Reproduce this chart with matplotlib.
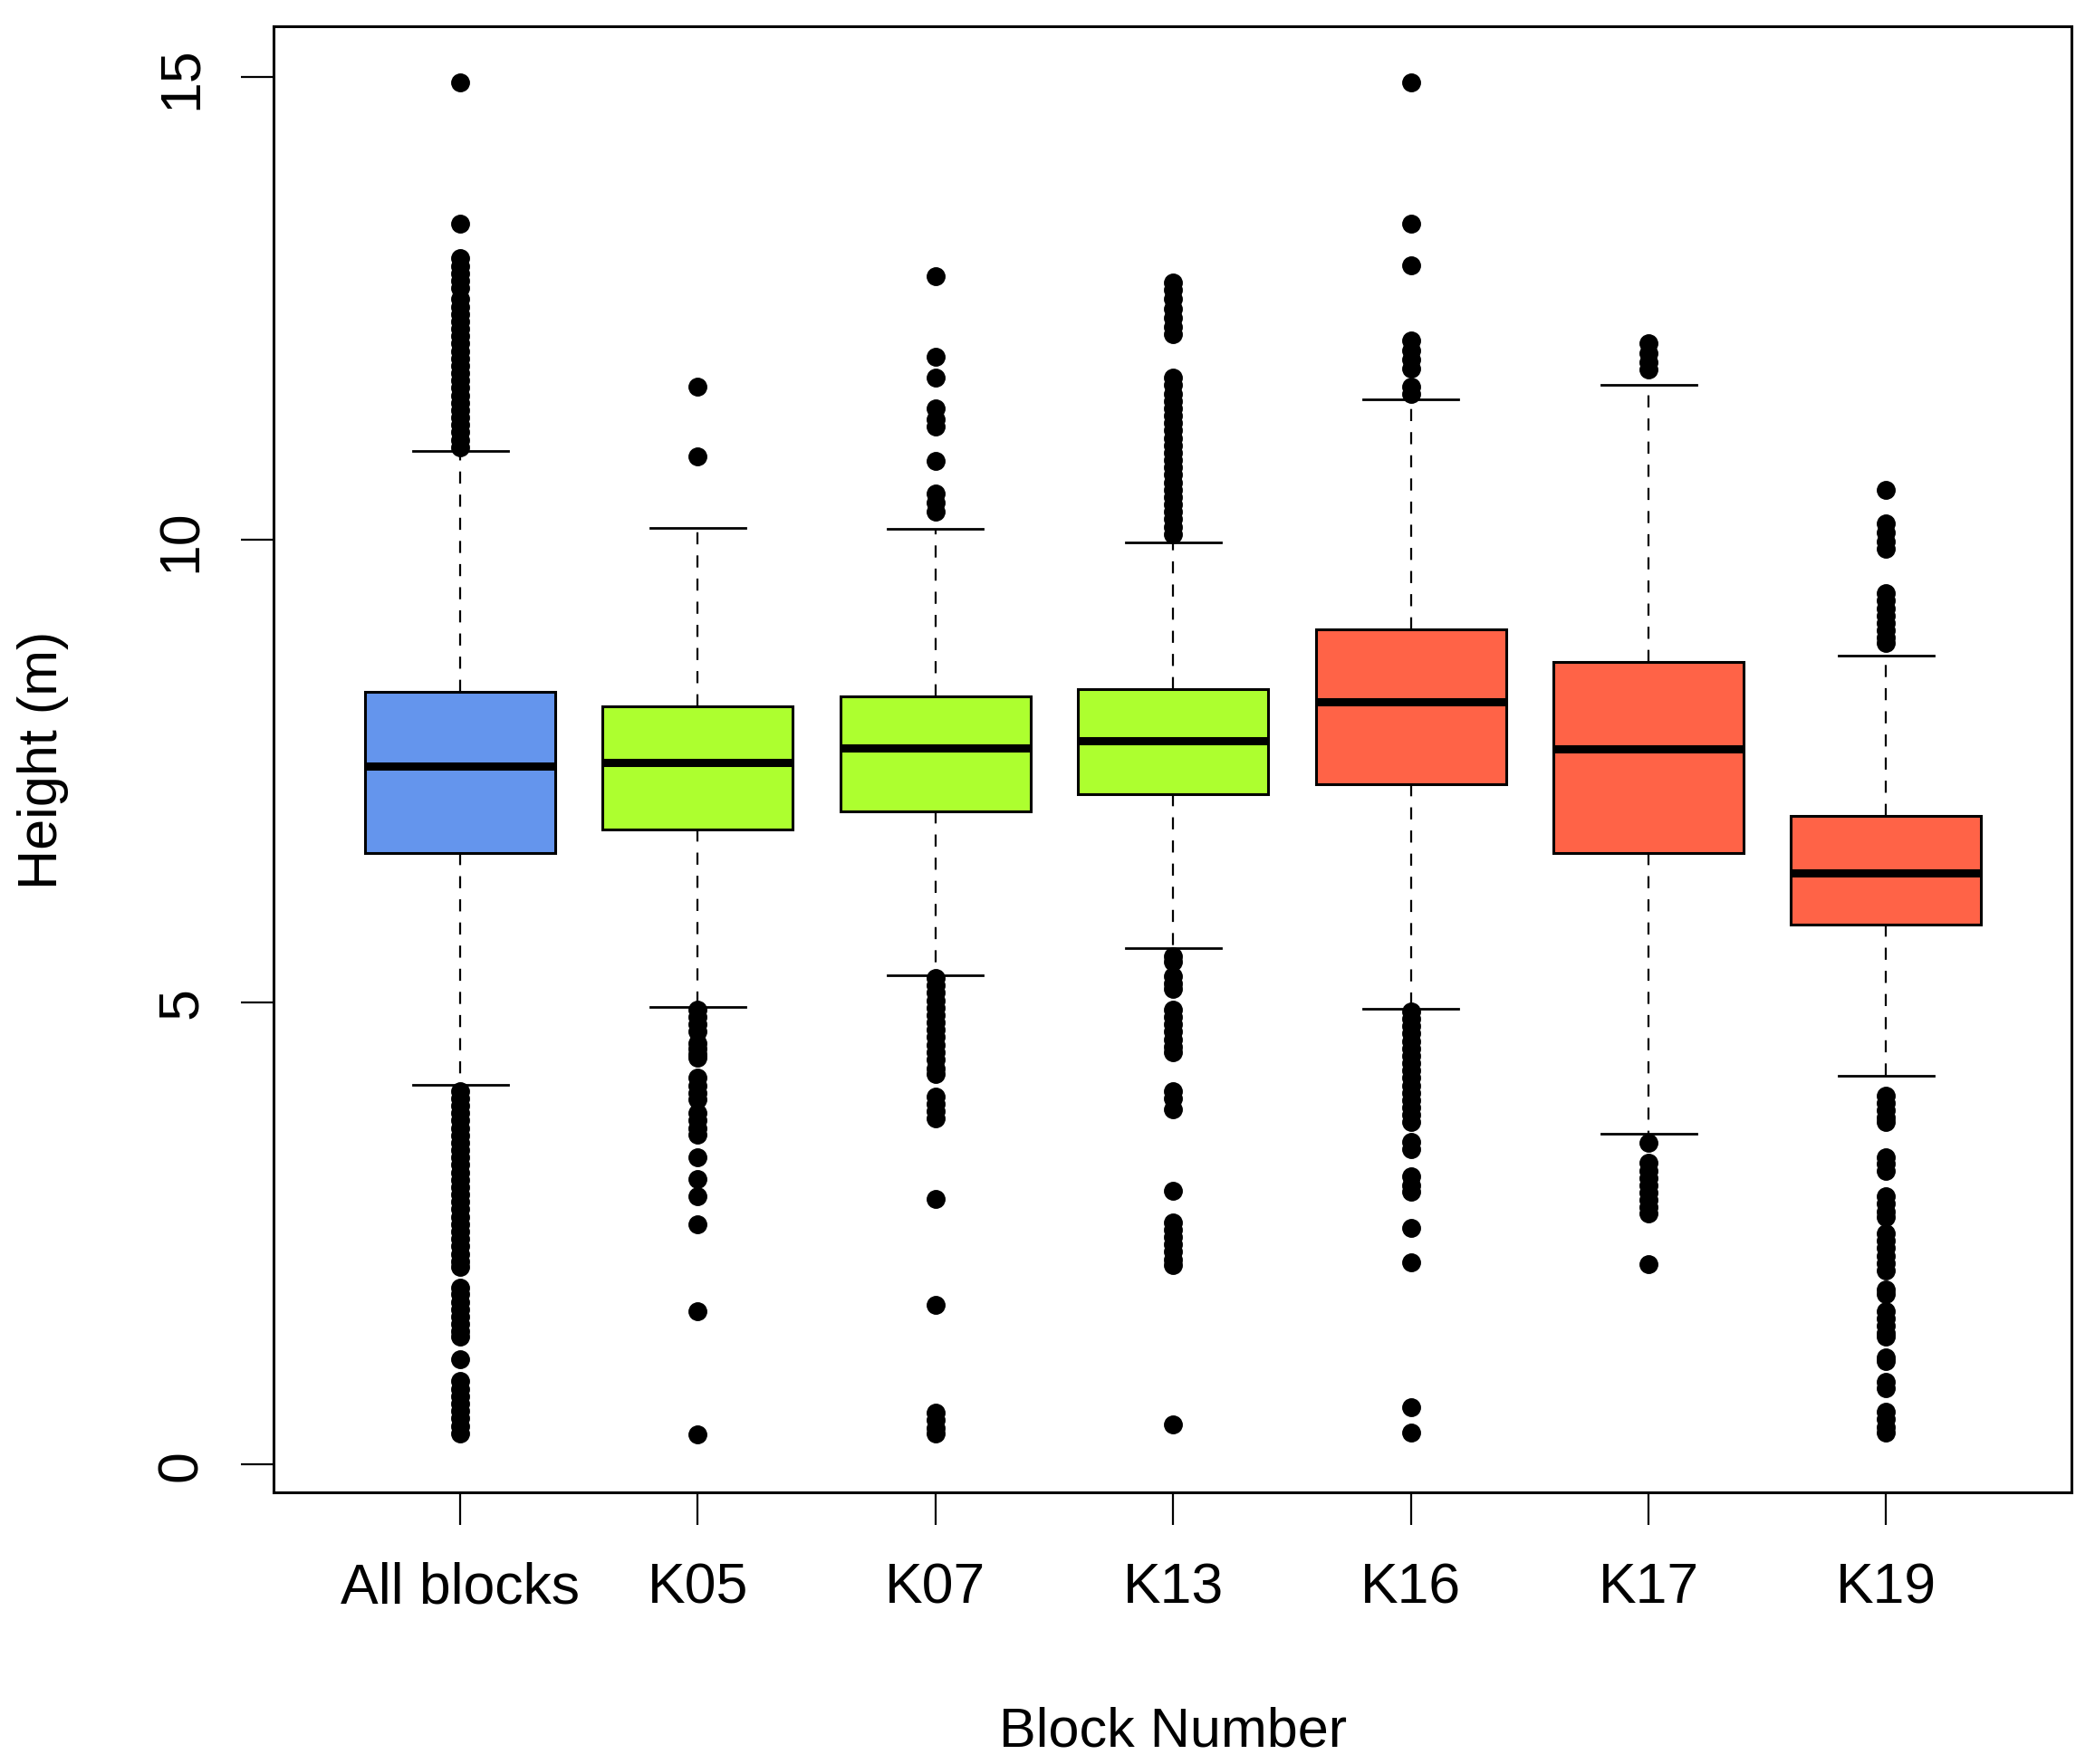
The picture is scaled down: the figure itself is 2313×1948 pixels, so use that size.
import matplotlib
matplotlib.use("Agg")
from matplotlib import pyplot as plt

plt.rcParams['font.family'] = ['Liberation Sans', 'DejaVu Sans']

# categorias y estadisticos
bloques = ["All blocks", "K05", "K07", "K13", "K16", "K17", "K19"]
colores = ["#6495ED", "#ADFF2F", "#ADFF2F", "#ADFF2F", "#FF6347", "#FF6347", "#FF6347"]

q1 = [6.61, 6.87, 7.06, 7.25, 7.36, 6.61, 5.84]
mediana = [7.55, 7.59, 7.75, 7.83, 8.25, 7.74, 6.40]
q3 = [8.35, 8.20, 8.31, 8.38, 9.03, 8.68, 7.01]
bigote_inf = [4.11, 4.95, 5.29, 5.58, 4.93, 3.58, 4.20]
bigote_sup = [10.96, 10.13, 10.12, 9.97, 11.52, 11.67, 8.75]

# atipicos
at_all = [14.94, 13.42, 13.04, 12.96, 12.88, 12.80, 12.72, 12.60, 12.52, 12.44,
          12.36, 12.28, 12.20, 12.12, 12.04, 11.96, 11.88, 11.80, 11.72, 11.64,
          11.56, 11.48, 11.40, 11.32, 11.24, 11.16, 11.08, 11.00,
          4.04, 3.96, 3.88, 3.80, 3.72, 3.64, 3.56, 3.48, 3.40, 3.32, 3.24,
          3.16, 3.08, 3.00, 2.92, 2.84, 2.76, 2.68, 2.60, 2.52, 2.44, 2.36,
          2.28, 2.20, 2.14, 1.91, 1.84, 1.76, 1.68, 1.60, 1.52, 1.44, 1.38,
          1.14, 0.90, 0.82, 0.74, 0.66, 0.58, 0.50, 0.42, 0.34]
at_k05 = [11.65, 10.90,
          4.92, 4.84, 4.76, 4.68, 4.56, 4.50, 4.44, 4.40, 4.18, 4.10, 4.02,
          3.95, 3.80, 3.72, 3.64, 3.57, 3.32, 3.09, 2.90, 2.60, 1.66, 0.33]
at_k07 = [12.85, 11.98, 11.75, 11.42, 11.30, 11.22, 10.85, 10.50, 10.40, 10.30,
          5.26, 5.18, 5.10, 5.02, 4.94, 4.86, 4.78, 4.70, 4.62, 4.54, 4.46,
          4.38, 4.28, 4.22, 3.98, 3.90, 3.82, 3.74, 2.87, 1.73, 0.56, 0.48,
          0.40, 0.34]
at_k13 = [12.78, 12.70, 12.60, 12.50, 12.40, 12.30, 12.22,
          11.75, 11.67, 11.58, 11.50, 11.42, 11.34, 11.26, 11.18, 11.10, 11.02,
          10.94, 10.86, 10.78, 10.70, 10.62, 10.54, 10.46, 10.38, 10.30, 10.22,
          10.14, 10.06,
          5.50, 5.44, 5.28, 5.20, 5.14, 4.92, 4.84, 4.76, 4.68, 4.60, 4.52,
          4.46, 4.04, 3.96, 3.84, 2.96, 2.62, 2.54, 2.46, 2.38, 2.30, 2.22,
          2.16, 0.43]
at_k16 = [14.94, 13.42, 12.97, 12.15, 12.05, 11.95, 11.85, 11.65, 11.58,
          4.90, 4.82, 4.74, 4.66, 4.58, 4.50, 4.42, 4.34, 4.26, 4.18, 4.10,
          4.02, 3.94, 3.86, 3.78, 3.70, 3.49, 3.41, 3.12, 3.02, 2.95, 2.56,
          2.19, 0.62, 0.35]
at_k17 = [12.12, 12.02, 11.92, 11.84,
          3.48, 3.26, 3.18, 3.10, 3.02, 2.94, 2.86, 2.78, 2.72, 2.17]
at_k19 = [10.54, 10.18, 10.08, 9.98, 9.90, 9.42, 9.34, 9.26, 9.18, 9.10,
          9.02, 8.94, 8.88,
          3.99, 3.91, 3.83, 3.75, 3.70, 3.32, 3.25, 3.18, 2.90, 2.82, 2.74,
          2.68, 2.50, 2.42, 2.34, 2.26, 2.18, 2.10, 1.89, 1.84, 1.66, 1.58,
          1.50, 1.42, 1.38, 1.16, 1.12, 0.89, 0.83, 0.57, 0.49, 0.41, 0.35]
atipicos = [at_all, at_k05, at_k07, at_k13, at_k16, at_k17, at_k19]

stats = []
for i in range(len(bloques)):
    stats.append({
        'label': bloques[i],
        'q1': q1[i], 'med': mediana[i], 'q3': q3[i],
        'whislo': bigote_inf[i], 'whishi': bigote_sup[i],
        'fliers': atipicos[i],
    })

fig = plt.figure(figsize=(23.13, 19.49), dpi=100)
ax = fig.add_axes([0.1306, 0.1539, 0.8582, 0.8307])

pos = list(range(1, len(bloques) + 1))
bp = ax.bxp(stats, positions=pos, widths=0.8, patch_artist=True,
            showfliers=True,
            boxprops=dict(linewidth=2.2, edgecolor='black'),
            medianprops=dict(linewidth=6.5, color='black', solid_capstyle='butt'),
            whiskerprops=dict(linewidth=1.6, color='black', linestyle=(0, (6, 5.5))),
            capprops=dict(linewidth=2.0, color='black'),
            flierprops=dict(marker='o', markersize=14, markerfacecolor='black',
                            markeredgecolor='black', linestyle='none'))
for caja, c in zip(bp['boxes'], colores):
    caja.set_facecolor(c)

ax.set_xlim(0.215, 7.78)
ax.set_ylim(-0.3, 15.55)
ax.set_yticks([0, 5, 10, 15])
ax.set_xticks(pos)
ax.set_xticklabels(bloques)

ax.tick_params(axis='both', direction='out', length=26, width=1.6, labelsize=45)
ax.tick_params(axis='x', pad=28)
ax.tick_params(axis='y', pad=26)
for lab in ax.get_yticklabels():
    lab.set_rotation(90)
    lab.set_va('center')

for s in ax.spines.values():
    s.set_linewidth(2.2)

ax.set_xlabel("Block Number", fontsize=44)
ax.xaxis.set_label_coords(0.5, -0.163)
ax.xaxis.label.set_va('center')
ax.set_ylabel("Height (m)", fontsize=44)
ax.yaxis.set_label_coords(-0.1285, 0.5)
ax.yaxis.label.set_va('center')

fig.savefig("out.png", dpi=100, facecolor='white')
